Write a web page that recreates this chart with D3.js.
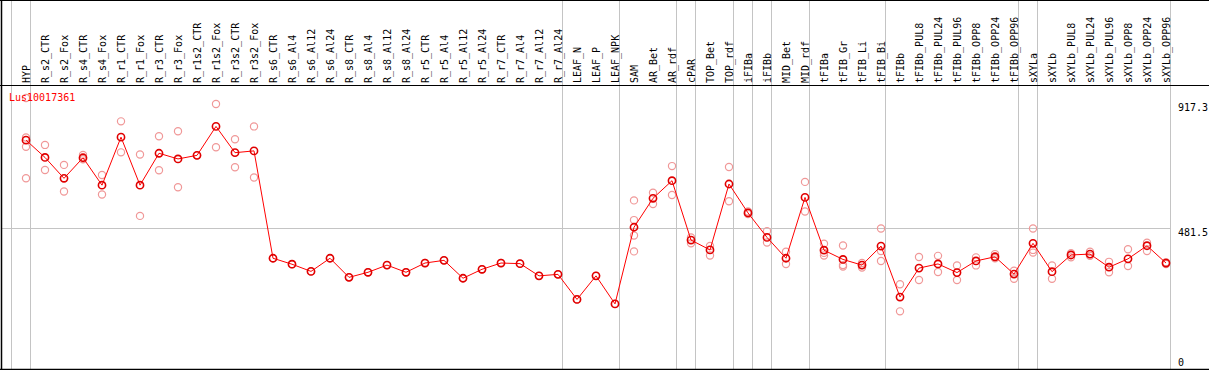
<!DOCTYPE html>
<html>
<head>
<meta charset="utf-8">
<script src="https://cdn.jsdelivr.net/npm/d3@7"></script>
<style>
  html, body { margin: 0; padding: 0; background: #fff; }
  svg { display: block; font-family: "DejaVu Sans Mono", monospace; }
</style>
</head>
<body>
<div id="chart"></div>
<script>
// samples (one column each)
const samples = [
  "HYP", "R_s2_CTR", "R_s2_Fox", "R_s4_CTR", "R_s4_Fox", "R_r1_CTR", "R_r1_Fox",
  "R_r3_CTR", "R_r3_Fox", "R_r1s2_CTR", "R_r1s2_Fox", "R_r3s2_CTR", "R_r3s2_Fox",
  "R_s6_CTR", "R_s6_Al4", "R_s6_Al12", "R_s6_Al24", "R_s8_CTR", "R_s8_Al4", "R_s8_Al12",
  "R_s8_Al24", "R_r5_CTR", "R_r5_Al4", "R_r5_Al12", "R_r5_Al24", "R_r7_CTR", "R_r7_Al4",
  "R_r7_Al12", "R_r7_Al24", "LEAF_N", "LEAF_P", "LEAF_NPK", "SAM", "AR_Bet", "AR_rdf",
  "cPAR", "TOP_Bet", "TOP_rdf", "iFIBa", "iFIBb", "MID_Bet", "MID_rdf", "tFIBa",
  "tFIB_Gr", "tFIB_Li", "tFIB_Bi", "tFIBb", "tFIBb_PUL8", "tFIBb_PUL24", "tFIBb_PUL96",
  "tFIBb_OPP8", "tFIBb_OPP24", "tFIBb_OPP96", "sXYLa", "sXYLb", "sXYLb_PUL8",
  "sXYLb_PUL24", "sXYLb_PUL96", "sXYLb_OPP8", "sXYLb_OPP24", "sXYLb_OPP96"
];

// last sample of each group -> a grey separator after it
const groupEnds = ["HYP", "R_r7_Al24", "LEAF_NPK", "AR_rdf", "cPAR", "TOP_rdf", "iFIBa",
  "iFIBb", "MID_rdf", "tFIB_Bi", "tFIBb_OPP96", "sXYLa", "sXYLb_OPP96"];

// mean expression per sample
const means = [
  776, 718, 648, 717, 625, 786, 625, 732, 713, 725, 822, 734, 740,
  380, 360, 336, 380, 316, 333, 357, 333, 364, 373, 313, 343, 364, 362, 321, 326,
  242, 321, 227, 484, 581, 640, 441, 408, 629, 532, 450, 380, 584,
  407, 376, 357, 421, 250, 347, 361, 332, 371, 385, 327, 430, 335, 391, 394, 350, 378, 422, 364
];

// replicate values per sample
const replicates = [
  [917.3, 785, 754, 648], [760, 676], [693, 604], [726, 712], [659, 594], [839, 735],
  [728, 522], [789, 675], [806, 618], [725], [897, 752], [779, 685], [822, 651],
  [380], [360], [336], [380], [316], [333], [357], [333], [364], [373], [313], [343],
  [364], [362], [321], [326], [242], [321], [227],
  [574, 508, 456, 403], [600, 562], [689, 592], [450, 430], [421, 389], [686, 571],
  [537, 528], [471, 433], [402, 361], [636, 537], [429, 398, 389], [423, 357, 352],
  [364, 357, 349], [480, 404, 371], [293, 202], [384, 307], [388, 334], [356, 307],
  [383, 356], [394, 380], [338, 311], [480, 408, 399], [356, 311], [397, 383],
  [402, 388], [368, 333], [410, 354], [432, 404], [367, 361]
];

const yTicks = [0, 481.5, 917.3];
const title = "Lus10017361";

const width = 1209;
const height = 370;
const headerBottom = 85;
const plotBottom = 369;
const plotRight = 1170;

const svg = d3.select("#chart")
  .append("svg")
  .attr("width", width)
  .attr("height", height);

const x = d3.scalePoint().domain(samples).range([26, 1166]);
const step = x.step();
const y = d3.scaleLinear().domain([0, 917.3]).range([371.6, 98]);

// grey separators, running through header and plot
const sepX = [x(samples[0]) - step + 4].concat(groupEnds.map(d => x(d) + 4));
svg.selectAll("line.sep")
  .data(sepX)
  .enter()
  .append("line")
  .attr("class", "sep")
  .attr("x1", d => Math.round(d) + 0.5)
  .attr("x2", d => Math.round(d) + 0.5)
  .attr("y1", 0)
  .attr("y2", plotBottom)
  .attr("stroke", "#c4c4c4");

// horizontal grid at the middle tick
svg.append("line")
  .attr("x1", 1)
  .attr("x2", plotRight)
  .attr("y1", Math.round(y(yTicks[1])) + 0.5)
  .attr("y2", Math.round(y(yTicks[1])) + 0.5)
  .attr("stroke", "#c4c4c4");

// frame
svg.append("line").attr("x1", 0).attr("x2", width).attr("y1", 0.5).attr("y2", 0.5).attr("stroke", "#000");
svg.append("line").attr("x1", 0).attr("x2", width).attr("y1", headerBottom + 0.5).attr("y2", headerBottom + 0.5).attr("stroke", "#000");
svg.append("line").attr("x1", 1.5).attr("x2", 1.5).attr("y1", 0).attr("y2", plotBottom + 1).attr("stroke", "#000").attr("stroke-width", 1.5);
svg.append("line").attr("x1", 0).attr("x2", width).attr("y1", plotBottom + 0.5).attr("y2", plotBottom + 0.5).attr("stroke", "#000").attr("stroke-width", 1.5);

// rotated sample labels
svg.selectAll("text.sample")
  .data(samples)
  .enter()
  .append("text")
  .attr("class", "sample")
  .attr("transform", d => `translate(${x(d) + 4},83) rotate(-90)`)
  .attr("font-size", 10)
  .attr("fill", "#000")
  .text(d => d);

// y labels on the right
svg.selectAll("text.ytick")
  .data(yTicks)
  .enter()
  .append("text")
  .attr("class", "ytick")
  .attr("x", 1178)
  .attr("y", (d, i) => i === 0 ? plotBottom - 3.5 : y(d) + (i === 2 ? 12.5 : 8))
  .attr("font-size", 10)
  .attr("fill", "#000")
  .text(d => d);

// replicate points
const repPts = [];
replicates.forEach((vals, i) => vals.forEach(v => repPts.push({ s: samples[i], v: v })));
svg.selectAll("circle.rep")
  .data(repPts)
  .enter()
  .append("circle")
  .attr("class", "rep")
  .attr("cx", d => x(d.s))
  .attr("cy", d => y(d.v))
  .attr("r", 3.6)
  .attr("fill", "none")
  .attr("stroke", "#f09898")
  .attr("stroke-width", 1.2);

// mean line
const line = d3.line()
  .x((d, i) => x(samples[i]))
  .y(d => y(d));
svg.append("path")
  .datum(means)
  .attr("d", line)
  .attr("fill", "none")
  .attr("stroke", "red")
  .attr("stroke-width", 1);

svg.selectAll("circle.mean")
  .data(means)
  .enter()
  .append("circle")
  .attr("class", "mean")
  .attr("cx", (d, i) => x(samples[i]))
  .attr("cy", d => y(d))
  .attr("r", 3.6)
  .attr("fill", "none")
  .attr("stroke", "#e00000")
  .attr("stroke-width", 1.6);

// gene title
svg.append("text")
  .attr("x", 9)
  .attr("y", 101)
  .attr("font-size", 10)
  .attr("fill", "red")
  .text(title);
</script>
</body>
</html>
